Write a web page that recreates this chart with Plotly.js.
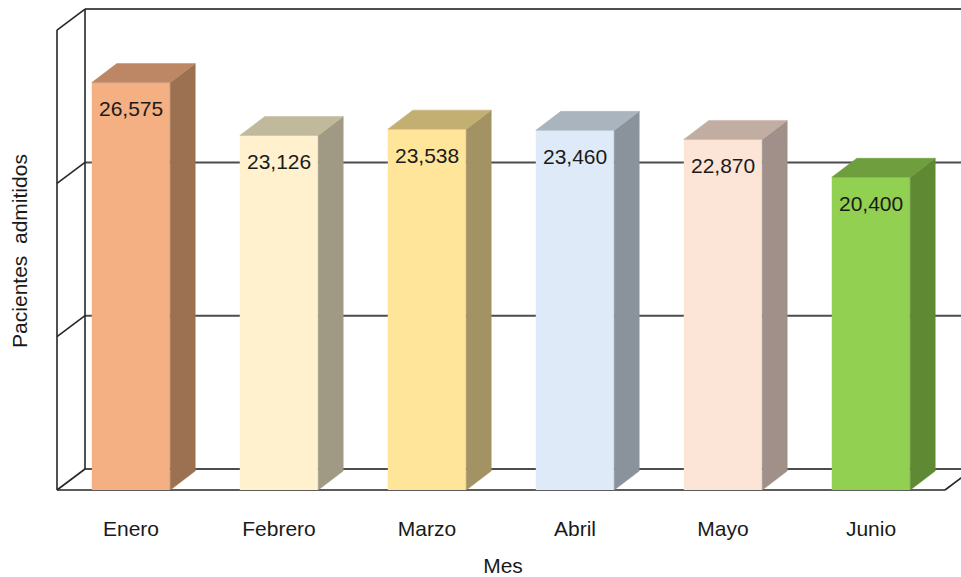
<!DOCTYPE html>
<html>
<head>
<meta charset="utf-8">
<script src="https://cdn.plot.ly/plotly-3.0.1.min.js"></script>
<style>html,body{margin:0;padding:0;background:#fff;}#chart{width:961px;height:577px;}</style>
</head>
<body>
<div id="chart"></div>
<script>
// ---- data ----
const months = ['Enero', 'Febrero', 'Marzo', 'Abril', 'Mayo', 'Junio'];
const patients = [26575, 23126, 23538, 23460, 22870, 20400];
const gridValues = [0, 10000, 20000, 30000];
const xTitle = 'Mes';
const yTitle = 'Pacientes \u00a0admitidos';

// ---- styles ----
const frontColors = ['#F4AF82', '#FFF1CD', '#FFE59A', '#DEEAF7', '#FCE4D6', '#91D050'];
const sideColors  = ['#9C7151', '#A09A84', '#A39263', '#8A939C', '#A1908A', '#5F8A33'];
const topColors   = ['#BD8765', '#C1B99B', '#C4AF72', '#A9B4BF', '#C1ADA2', '#6E9E3D'];

// geometry (pixel-derived scales, in axis units)
const PX_X = 148;              // px per category
const PX_Y = 153.3 / 10000;    // px per y-unit
const L = 45, R = 0, T = 5, B = 80, W = 961, H = 577;
const X0 = -0.5 - (57 - L) / PX_X;
const X1 = X0 + (W - L - R) / PX_X;
const Y0 = -((H - B) - 490) / PX_Y;
const Y1 = (490 - T) / PX_Y;
const WDX = 28 / PX_X, WDY = 21 / PX_Y;   // wall depth
const BDX = 25 / PX_X, BDY = 19 / PX_Y;   // bar depth
const HW = 0.265;                          // half bar width

const idx = months.map((m, i) => i);
const FX = -0.5, RX = months.length - 0.5;
const yMax = gridValues[gridValues.length - 1];

// walls as shapes below traces
const shapes = [];
const frame = {color: '#262626', width: 1.6};
const grid = {color: '#4d4d4d', width: 2};
gridValues.forEach(g => {
  shapes.push({type: 'line', layer: 'below', xref: 'x', yref: 'y', x0: FX, y0: g, x1: FX + WDX, y1: g + WDY, line: frame});
  shapes.push({type: 'line', layer: 'below', xref: 'x', yref: 'y', x0: FX + WDX, y0: g + WDY, x1: X1 + 1, y1: g + WDY, line: grid});
});
shapes.push({type: 'line', layer: 'below', xref: 'x', yref: 'y', x0: FX, y0: 0, x1: FX, y1: yMax, line: frame});
shapes.push({type: 'line', layer: 'below', xref: 'x', yref: 'y', x0: FX + WDX, y0: WDY, x1: FX + WDX, y1: yMax + WDY, line: frame});
shapes.push({type: 'line', layer: 'below', xref: 'x', yref: 'y', x0: FX, y0: 0, x1: RX, y1: 0, line: frame});
shapes.push({type: 'line', layer: 'below', xref: 'x', yref: 'y', x0: RX, y0: 0, x1: RX + WDX, y1: WDY, line: frame});

const traces = [];
traces.push({
  type: 'bar', x: idx, y: patients, width: 2 * HW,
  marker: {color: frontColors, line: {width: 0}},
  hoverinfo: 'skip', showlegend: false
});
idx.forEach(i => {
  const v = patients[i];
  traces.push({
    type: 'scatter', mode: 'lines', fill: 'toself', hoverinfo: 'skip', showlegend: false,
    x: [i + HW, i + HW + BDX, i + HW + BDX, i + HW, i + HW],
    y: [0, BDY, v + BDY, v, 0],
    fillcolor: sideColors[i], line: {color: sideColors[i], width: 0.5}
  });
  traces.push({
    type: 'scatter', mode: 'lines', fill: 'toself', hoverinfo: 'skip', showlegend: false,
    x: [i - HW, i + HW, i + HW + BDX, i - HW + BDX, i - HW],
    y: [v, v, v + BDY, v + BDY, v],
    fillcolor: topColors[i], line: {color: topColors[i], width: 0.5}
  });
});

const annotations = idx.map(i => ({
  x: i, y: patients[i], xref: 'x', yref: 'y', yshift: -26,
  text: patients[i].toLocaleString('en-US'), showarrow: false,
  font: {family: 'Arial, Liberation Sans, sans-serif', size: 21, color: '#1a1a1a'}
}));

const font = {family: 'Arial, Liberation Sans, sans-serif', size: 21, color: '#1a1a1a'};
const layout = {
  width: W, height: H,
  margin: {l: L, r: R, t: T, b: B},
  paper_bgcolor: '#ffffff', plot_bgcolor: '#ffffff',
  showlegend: false,
  font: font,
  xaxis: {
    range: [X0, X1], tickvals: idx, ticktext: months,
    showgrid: false, zeroline: false, showline: false,
    ticks: 'outside', ticklen: 13, tickcolor: 'rgba(0,0,0,0)',
    tickfont: font, fixedrange: true,
    title: {text: xTitle, font: font, standoff: 22}
  },
  yaxis: {
    range: [Y0, Y1], showticklabels: false, showgrid: false, zeroline: false, showline: false,
    ticks: '', fixedrange: true,
    title: {text: yTitle, font: font, standoff: 10}
  },
  shapes: shapes,
  annotations: annotations
};
Plotly.newPlot('chart', traces, layout, {displayModeBar: false, staticPlot: true});
</script>
</body>
</html>
